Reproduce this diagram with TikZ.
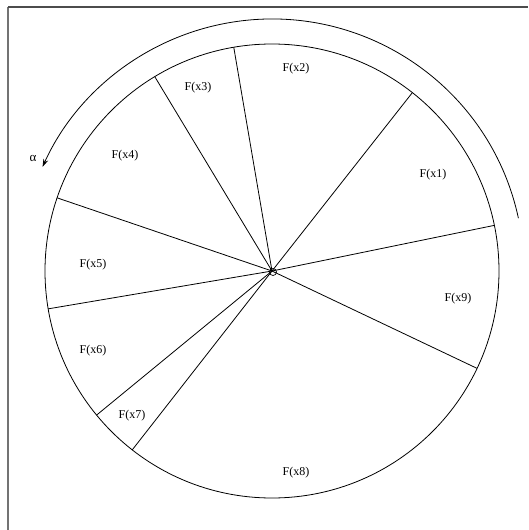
\documentclass[tikz,border=0pt]{standalone}
\usepackage{fontspec}
\setmainfont{Liberation Serif}
\usetikzlibrary{arrows.meta}
\begin{document}
\begin{tikzpicture}[x=1pt,y=-1pt, line width=0.8pt,
  lbl/.style={font=\fontsize{12}{14}\selectfont, inner sep=0pt},
  frame/.style={draw=black!55, line width=1.5pt}]
\useasboundingbox (0,0) rectangle (528,530);
\draw[frame] (8,530) -- (8,7);
\draw[frame, draw=black!70] (8,7) -- (528,7);
\coordinate (O) at (272,271);
\draw (O) circle[radius=227];
\node[draw, circle, minimum size=7pt, inner sep=0pt, line width=0.7pt] (c) at (273,272) {};
\foreach \n/\a in {a/11.6, b/51.8, d/99.7, e/121.1, f/161.2, g/189.6, h/219.4, i/232.0, j/334.6}{
  \coordinate (\n) at ([shift={(O)}] -\a:227);
  \draw (O) -- (\n);
}
\coordinate (arcS) at ([shift={(O)}] -12.1:252);
\draw[-{Stealth[length=8pt,width=5pt]}] (arcS) arc[start angle=-12.1, end angle=-155.6, radius=252];
\node[lbl, font=\fontsize{13}{15}\selectfont] (al) at (33,158) {α};
\node[lbl] (l1) at (433,175) {F(x1)};
\node[lbl] (l2) at (296,69) {F(x2)};
\node[lbl] (l3) at (198,88) {F(x3)};
\node[lbl] (l4) at (125,156) {F(x4)};
\node[lbl] (l5) at (93,265) {F(x5)};
\node[lbl] (l6) at (93,351) {F(x6)};
\node[lbl] (l7) at (132,416) {F(x7)};
\node[lbl] (l8) at (296,473) {F(x8)};
\node[lbl] (l9) at (458,299) {F(x9)};
\end{tikzpicture}
\end{document}
